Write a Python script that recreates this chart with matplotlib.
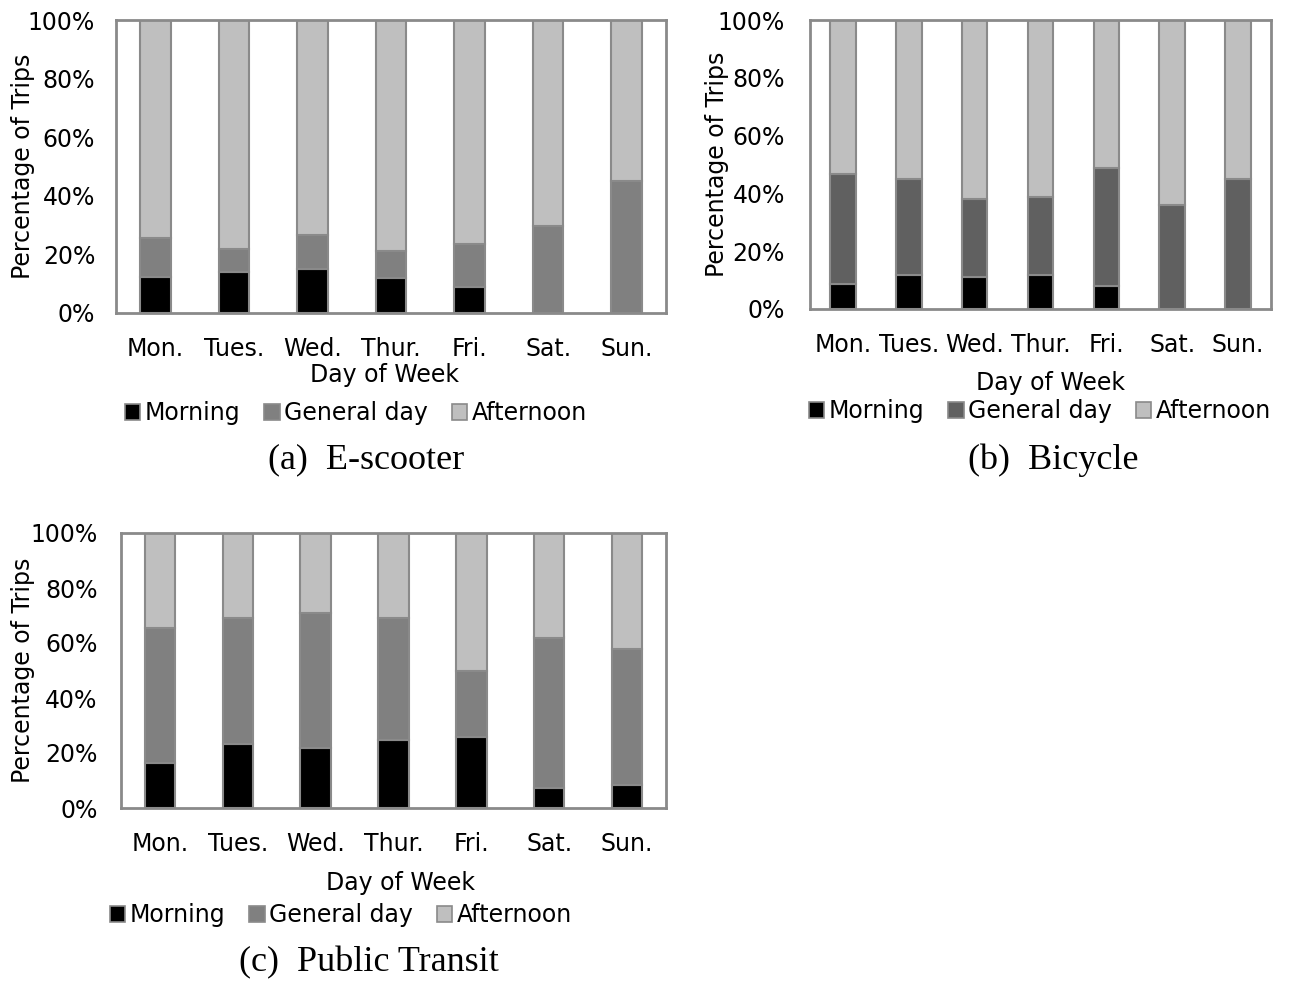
import matplotlib
matplotlib.use("Agg")
import matplotlib.pyplot as plt
import numpy as np
from matplotlib.patches import Patch

days = ["Mon.", "Tues.", "Wed.", "Thur.", "Fri.", "Sat.", "Sun."]
series_names = ["Morning", "General day", "Afternoon"]

# segment shares (%); afternoon = the rest up to 100%
scooter_morning = [12.3, 14.0, 15.1, 12.0, 8.9, 0.0, 0.0]
scooter_general = [13.3, 7.8, 11.4, 9.2, 14.7, 29.8, 45.1]

bicycle_morning = [8.5, 11.8, 11.2, 11.8, 7.9, 0.0, 0.0]
bicycle_general = [38.1, 33.2, 26.9, 26.8, 40.8, 36.0, 44.9]

transit_morning = [16.5, 23.4, 21.8, 24.6, 25.9, 7.1, 8.2]
transit_general = [48.9, 45.8, 49.1, 44.5, 24.1, 54.9, 49.5]

captions = ["(a)  E-scooter", "(b)  Bicycle", "(c)  Public Transit"]

W, H = 1294, 981
fig = plt.figure(figsize=(W / 100, H / 100), dpi=100)
plt.rcParams['font.family'] = ['DejaVu Sans']

edge = '#8a8a8a'
fs = 17


def px_axes(l, t, r, b):
    return fig.add_axes([l / W, 1 - b / H, (r - l) / W, (b - t) / H])


def draw_panel(ax, morning, general, gen_color, caption, cap_xy,
               leg_xy, xlab_xy, ylab_x, ypad):
    morning = np.array(morning)
    general = np.array(general)
    afternoon = 100 - morning - general
    x = np.arange(len(days))
    colors = ['#000000', gen_color, '#bfbfbf']
    bottom = np.zeros(len(days))
    for vals, c in zip([morning, general, afternoon], colors):
        ax.bar(x, vals, 0.39, bottom=bottom, color=c, edgecolor=edge, linewidth=1.5)
        bottom += vals
    ax.set_xlim(-0.5, 6.5)
    ax.set_ylim(0, 100)
    ax.set_yticks(np.arange(0, 101, 20))
    ax.set_yticklabels([f"{v}%" for v in range(0, 101, 20)])
    ax.set_xticks(x)
    ax.set_xticklabels(days)
    ax.tick_params(length=0, labelsize=fs)
    ax.tick_params(axis='x', pad=17.5)
    ax.tick_params(axis='y', pad=ypad)
    for s in ax.spines.values():
        s.set_color(edge)
        s.set_linewidth(2)
    ax.set_ylabel("Percentage of Trips", fontsize=fs)
    bb = ax.get_position()
    # x given in pixels = right edge of the rotated label
    ax.yaxis.set_label_coords((ylab_x / W - bb.x0) / bb.width, 0.5)
    fig.text(xlab_xy[0] / W, 1 - xlab_xy[1] / H, "Day of Week", fontsize=fs,
             ha='center', va='center')
    handles = [Patch(facecolor=c, edgecolor=edge, linewidth=1.2) for c in colors]
    fig.legend(handles, series_names, loc='center',
               bbox_to_anchor=(leg_xy[0] / W, 1 - leg_xy[1] / H),
               ncol=3, frameon=False, fontsize=fs,
               handlelength=0.65, handleheight=0.65, handletextpad=0.2,
               columnspacing=1.0, borderpad=0, borderaxespad=0)
    fig.text(cap_xy[0] / W, 1 - cap_xy[1] / H, caption, ha='center', va='center',
             fontsize=26, family='Liberation Serif')


ax_a = px_axes(116, 20, 666, 313)
draw_panel(ax_a, scooter_morning, scooter_general, '#808080', captions[0],
           (366, 460), (356, 413), (385, 375), 35, 15)

ax_b = px_axes(810, 20, 1271, 309)
draw_panel(ax_b, bicycle_morning, bicycle_general, '#606060', captions[1],
           (1053, 460), (1040, 411), (1050, 383), 729, 18)

ax_c = px_axes(121, 533, 666, 808)
draw_panel(ax_c, transit_morning, transit_general, '#808080', captions[2],
           (369, 963), (341, 915), (400, 883), 35, 17)

fig.savefig("out.png", dpi=100)
